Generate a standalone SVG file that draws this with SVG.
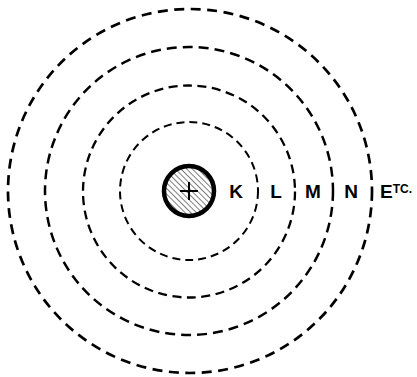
<svg xmlns="http://www.w3.org/2000/svg" width="417" height="377" viewBox="0 0 417 377">
<style>
.orb{fill:none;stroke:#000;stroke-linecap:butt}
.lbl{font-family:"Liberation Sans",Arial,sans-serif;font-weight:bold;font-size:19px;fill:#000}
</style>
<defs>
<pattern id="hatch" patternUnits="userSpaceOnUse" width="4" height="4" patternTransform="rotate(-45)">
<line x1="0" y1="0" x2="0" y2="4" stroke="#000" stroke-width="1"/>
</pattern>
<clipPath id="nucClip"><circle cx="189" cy="191" r="24"/></clipPath>
</defs>
<rect width="417" height="377" fill="#fff"/>
<g id="orbits">
<circle id="K-shell" class="orb" cx="189" cy="191" r="69" stroke-width="2" stroke-dasharray="8 5"/>
<circle id="L-shell" class="orb" cx="189" cy="191.5" r="106" stroke-width="2.3" stroke-dasharray="9 5.5"/>
<circle id="M-shell" class="orb" cx="189" cy="191" r="144" stroke-width="2.5" stroke-dasharray="10 6"/>
<circle id="N-shell" class="orb" cx="190" cy="191" r="182" stroke-width="2.7" stroke-dasharray="10 6.5"/>
</g>
<g id="nucleus">
<circle cx="189" cy="191" r="25" fill="url(#hatch)"/>
<g clip-path="url(#nucClip)" stroke="#000" stroke-width="2">
<line x1="180" y1="191" x2="198" y2="191"/>
<line x1="189" y1="182" x2="189" y2="200"/>
</g>
<circle cx="189" cy="191" r="25" fill="none" stroke="#000" stroke-width="4.5"/>
</g>
<g id="labels">
<text class="lbl" x="236" y="198" text-anchor="middle">K</text>
<text class="lbl" x="276" y="198" text-anchor="middle">L</text>
<text class="lbl" x="313" y="198" text-anchor="middle">M</text>
<text class="lbl" x="351" y="198" text-anchor="middle">N</text>
<text class="lbl" x="380" y="198">E<tspan font-size="12" dy="-5">TC.</tspan></text>
</g>
</svg>
